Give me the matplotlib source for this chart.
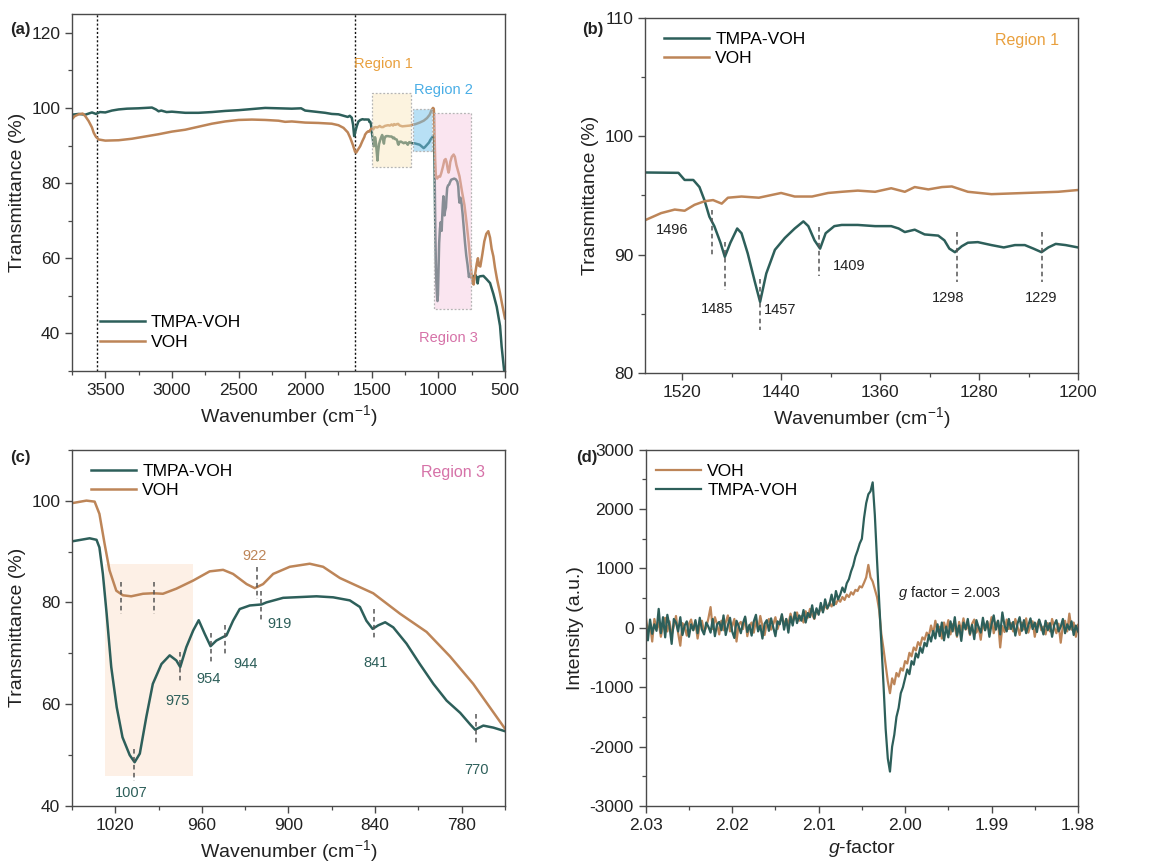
import numpy as np
import matplotlib
matplotlib.use("Agg")
import matplotlib.pyplot as plt
from matplotlib.patches import Rectangle
from matplotlib.ticker import MultipleLocator, FormatStrFormatter

plt.rcParams['font.family'] = ['Liberation Sans', 'DejaVu Sans']
plt.rcParams['mathtext.fontset'] = 'custom'
plt.rcParams['mathtext.rm'] = 'Liberation Sans'
plt.rcParams['mathtext.it'] = 'Liberation Sans:italic'
plt.rcParams['axes.unicode_minus'] = False

TEAL = '#2D5F5A'
BROWN = '#BD8558'
INK = '#222222'

# ---------------- FTIR spectra (wavenumber in cm-1, transmittance in %) ----------------
wn_tmpa = [3750, 3700, 3650, 3600, 3570, 3540, 3500, 3450, 3400, 3337, 3250, 3150, 3120, 3100,
           3080, 3040, 3000, 2900, 2800, 2700, 2600, 2500, 2400, 2300, 2200, 2100, 2030, 2000,
           1950, 1900, 1850, 1800, 1750, 1700, 1680, 1665, 1650, 1640, 1632, 1625, 1612, 1600,
           1585, 1570, 1555,
           1550, 1523, 1518, 1511, 1506, 1502, 1498, 1494, 1489, 1485.5, 1481, 1475.5, 1472,
           1467, 1461, 1457, 1452, 1445, 1437, 1429, 1422, 1418, 1413, 1408.5, 1404, 1397, 1391,
           1378, 1364, 1351, 1345, 1340, 1332, 1324, 1313, 1308, 1304, 1299.5, 1294, 1289, 1281,
           1270, 1260, 1251, 1243, 1236, 1229.5, 1224, 1218, 1210, 1200,
           1180, 1160, 1140, 1120, 1110, 1100, 1085, 1070, 1060,
           1050, 1037.8, 1033, 1031, 1028.6, 1026, 1022.8, 1019, 1015, 1010, 1006.6, 1003, 998.5,
           994, 988, 982.3, 977.7, 975, 970.8, 966, 962.2, 958, 954, 950, 945.3, 943, 938.4,
           933.8, 926.8, 918.7, 915.3, 903.7, 880.6, 869, 857.5, 850.5, 846, 841.7, 837.8, 833,
           827.4, 818.2, 809, 799.6, 790.4, 781, 774, 770.7, 765, 758, 750,
           737, 720, 712, 705, 698, 687, 662, 640, 612, 587, 562, 537, 525, 507, 500]
t_tmpa = [98.2, 98.4, 98.2, 98.8, 98.4, 98.9, 98.8, 99.3, 99.6, 99.8, 99.9, 100.1, 99.6, 99.1,
          99.3, 98.9, 99.0, 98.7, 98.7, 98.9, 99.2, 99.4, 99.7, 100.0, 99.9, 99.8, 99.9, 99.3,
          99.1, 98.9, 98.7, 98.4, 98.3, 97.8, 97.6, 97.9, 97.4, 95.5, 92.5, 93.5, 95.2, 96.4,
          96.8, 97.0, 96.9,
          96.93, 96.9, 96.3, 96.3, 95.7, 94.6, 93.2, 92.4, 91.0, 89.8, 91.0, 92.2, 91.8,
          90.1, 87.6, 86.0, 88.4, 90.4, 91.4, 92.2, 92.8, 92.4, 91.2, 90.5, 91.8, 92.4, 92.5,
          92.5, 92.4, 92.4, 92.2, 91.9, 92.1, 91.7, 91.6, 91.2, 90.5, 90.2, 90.7, 91.0, 91.05,
          90.8, 90.6, 90.8, 90.8, 90.5, 90.2, 90.6, 90.9, 90.8, 90.6,
          90.6, 90.4, 90.2, 89.6, 89.3, 89.6, 90.2, 90.8, 91.5,
          92.0, 92.6, 92.3, 90.8, 85.6, 77.8, 67.3, 59.4, 53.5, 50.0, 48.6, 50.3, 57.5,
          64.0, 67.9, 69.6, 68.6, 67.3, 71.2, 74.5, 76.5, 73.8, 71.4, 72.5, 73.2, 73.5, 76.4,
          78.7, 79.4, 79.6, 80.0, 80.9, 81.2, 81.0, 80.4, 79.1, 76.4, 74.8, 75.5, 76.1,
          75.1, 71.9, 67.9, 64.0, 60.7, 58.3, 56.0, 55.0, 55.8, 55.4, 54.7,
          55.2, 55.5, 54.8, 53.3, 55.0, 55.2, 55.3, 54.5, 53.4, 50.5, 47.1, 42.0, 36.5, 30.5, 28.0]

wn_voh = [3750, 3730, 3700, 3670, 3650, 3625, 3600, 3587, 3570, 3550, 3500, 3400, 3300, 3200,
          3100, 3000, 2900, 2800, 2700, 2600, 2500, 2400, 2300, 2200, 2150, 2100, 2000, 1900,
          1800, 1750, 1712, 1680, 1662, 1640, 1625, 1617, 1605, 1587, 1570, 1555,
          1550, 1537, 1526, 1518, 1510, 1502, 1495, 1488, 1483, 1472, 1458, 1440, 1429, 1415,
          1402, 1391, 1378, 1364, 1351, 1340, 1332, 1321, 1310, 1302, 1289, 1270, 1243, 1216,
          1200,
          1170, 1140, 1110, 1085, 1065,
          1050, 1040, 1034.3, 1031, 1027.4, 1024, 1019.3, 1014.7, 1009, 1000.8, 993.9, 987,
          977.7, 966, 954.6, 945.3, 938.4, 929, 923.4, 917.6, 910.6, 899.1, 885.3, 876, 864.4,
          855.2, 841.3, 822.8, 804.3, 788.1, 772, 750,
          742, 735, 725, 712, 703, 695, 685, 670, 655, 640, 625, 612, 600, 587, 575, 560, 537,
          520, 500]
t_voh = [97.0, 97.8, 98.3, 98.5, 97.8, 96.5, 94.8, 93.4, 92.3, 91.6, 91.3, 91.4, 91.8, 92.4,
         93.0, 93.7, 94.2, 95.0, 95.8, 96.4, 96.8, 96.9, 96.8, 96.6, 96.3, 96.4, 96.1, 96.0,
         95.8, 95.4, 94.7, 93.5, 92.1, 90.0, 88.3, 88.1, 88.8, 89.8, 91.2, 92.3,
         92.9, 93.5, 93.8, 93.7, 94.2, 94.5, 94.6, 94.3, 94.8, 94.9, 94.8, 95.2, 94.9, 94.9,
         95.2, 95.3, 95.4, 95.3, 95.6, 95.3, 95.7, 95.5, 95.7, 95.75, 95.3, 95.1, 95.2, 95.3,
         95.45,
         95.7, 96.1, 96.6, 97.3, 98.2,
         99.5, 100.0, 99.8, 97.4, 91.5, 86.3, 82.3, 81.4, 81.2, 81.7, 81.8, 81.7,
         82.7, 84.3, 86.1, 86.4, 85.6, 83.6, 82.8, 83.6, 85.6, 87.0, 87.6, 87.0, 84.8,
         83.6, 81.8, 77.8, 74.2, 69.4, 64.0, 55.2,
         53.5, 53.0, 55.5, 58.5, 60.0, 58.0, 57.8, 61.0, 64.5, 66.5, 67.2, 65.5, 62.5, 60.5,
         57.5, 54.5, 50.7, 47.5, 44.0]

# labelled absorption bands
peaks_b = [1496, 1485, 1457, 1409, 1298, 1229]
peaks_c_tmpa = [1007, 975, 954, 944, 919, 841, 770]
peaks_c_voh = [1016, 993, 922]

# ---------------- EPR spectra ----------------
g_start, g_stop, g_count = 2.03, 1.98, 201
epr_tmpa = [120, -210, 140, -100, 60, -50, 320, -90, 180, -160,
            220, 30, -270, 150, 90, -60, 180, -120, 40, 110,
            -150, 60, -40, 130, -90, 170, -30, -110, 90, 20,
            -80, 150, -140, 60, 100, -40, 210, -120, 40, 170,
            -60, -170, 120, 30, -90, 80, 190, -70, 50, -130,
            110, 220, -60, 40, -180, 70, 130, -50, 160, 10,
            -140, 110, 60, 230, -30, 150, -80, 190, 40, 260,
            80, 210, 120, 300, 90, 250, 180, 380, 160, 330,
            220, 420, 260, 480, 330, 400, 560, 380, 620, 480,
            560, 680, 600, 750, 820, 950, 1050, 1200, 1300, 1420,
            1500, 1850, 2100, 2250, 2300, 2450, 1900, 1150, 450, -250,
            -950, -1700, -2200, -2420, -2000, -1800, -1500, -1350, -1100, -1000,
            -850, -700, -780, -560, -620, -430, -500, -330, -420, -250,
            -310, -120, -230, -50, -180, 60, -140, 90, -210, 20,
            -160, 110, -60, 180, -130, 40, -220, 90, -20, 150,
            -100, 50, -190, 130, 10, -80, 170, -40, 110, -150,
            60, 210, -30, 120, -110, 260, 40, -60, 150, -20,
            100, -130, 70, 180, -50, 130, -90, 40, 160, -20,
            90, -70, 140, 30, -110, 120, -40, 80, -150, 50,
            130, -60, 20, 150, -90, 60, -30, 110, -120, 40,
            -60]
epr_voh = [200, -80, 60, -230, 150, -20, 90, -150, 40, 170,
           -60, 110, -120, 30, 200, -90, -300, 80, 20, -130,
           70, 140, -40, 90, -180, 50, 120, -70, 10, 160,
           350, -20, 180, 60, -110, 120, -40, 90, 210, -60,
           30, 150, -230, 60, 100, -20, 170, -140, 40, 90,
           -80, 130, -40, 200, 30, -120, 80, 150, -30, 60,
           180, -20, 100, 210, 40, 150, 60, 240, 100, 180,
           260, 120, 200, 90, 280, 170, 320, 220, 150, 300,
           240, 340, 280, 380, 320, 420, 360, 460, 400, 480,
           440, 520, 470, 560, 520, 600, 560, 640, 620, 700,
           680, 760, 850, 1060, 850, 780, 650, 520, 300, -100,
           -350, -620, -900, -1100, -850, -950, -760, -820, -680, -720,
           -560, -600, -420, -480, -330, -380, -240, -300, -160, -200,
           -80, -140, 40, -100, 120, -60, 20, -180, 90, -40,
           130, -110, 60, 10, -150, 100, -60, 160, -30, 50,
           -120, 70, 140, -80, 20, -200, 90, -40, 110, -10,
           180, -90, 50, 120, -330, 30, -70, 140, -20, 80,
           -60, 150, 20, -120, 90, -30, 160, -80, 40, 110,
           -150, 60, 130, -40, 20, -110, 80, -60, 150, 10,
           -90, 70, -250, 40, 120, -60, 240, -30, 90, -150,
           50]
g_axis = np.linspace(g_start, g_stop, g_count)

TICK_FS = 12.5
LABEL_FS = 14
LEG_FS = 12.5
ANN_FS = 10.5


def style_axes(ax):
    for sp in ax.spines.values():
        sp.set_color('#4a4a4a')
        sp.set_linewidth(1.0)
    ax.tick_params(which='major', direction='out', length=5, width=1.0,
                   labelsize=TICK_FS, colors='#4a4a4a', labelcolor=INK,
                   top=False, right=False)
    ax.tick_params(which='minor', direction='out', length=3, width=0.9,
                   colors='#4a4a4a', top=False, right=False)


def vmark(ax, x, y0, y1):
    ax.plot([x, x], [y0, y1], ls=(0, (3, 2.2)), color='#555555', lw=1.1, zorder=4)


fig = plt.figure(figsize=(11.5, 8.68), dpi=100)

# ---------------- (a) full FTIR range ----------------
ax = fig.add_axes([0.0626, 0.5726, 0.3765, 0.4113])
ax.plot(wn_tmpa, t_tmpa, color=TEAL, lw=1.8, label='TMPA-VOH', zorder=2)
ax.plot(wn_voh, t_voh, color=BROWN, lw=1.8, label='VOH', zorder=2)
for xv in (3562, 1622):
    ax.axvline(xv, color='#111111', ls=(0, (1.5, 1.5)), lw=1.0, zorder=1)
ax.add_patch(Rectangle((1205, 84.3), 295, 19.6, facecolor=(0.98, 0.90, 0.72, 0.45),
                       edgecolor='#b5b5b5', ls=(0, (1.5, 1.5)), lw=0.9, zorder=3))
ax.add_patch(Rectangle((1045, 88.5), 147, 11.3, facecolor=(0.45, 0.76, 0.93, 0.5),
                       edgecolor='#b5b5b5', ls=(0, (1.5, 1.5)), lw=0.9, zorder=3))
ax.add_patch(Rectangle((755, 46.4), 277, 52.2, facecolor=(0.96, 0.78, 0.87, 0.45),
                       edgecolor='#b5b5b5', ls=(0, (1.5, 1.5)), lw=0.9, zorder=3))
ax.text(1412, 111.8, 'Region 1', color='#E9A03E', fontsize=10.5, ha='center', va='center')
ax.text(962, 104.8, 'Region 2', color='#4AAEE6', fontsize=10.5, ha='center', va='center')
ax.text(925, 38.7, 'Region 3', color='#D672A8', fontsize=10.5, ha='center', va='center')
ax.set_xlim(3750, 500)
ax.set_ylim(30, 125)
ax.xaxis.set_major_locator(MultipleLocator(500))
ax.xaxis.set_minor_locator(MultipleLocator(250))
ax.set_yticks([40, 60, 80, 100, 120])
ax.yaxis.set_minor_locator(MultipleLocator(10))
ax.set_xlabel('Wavenumber (cm$^{-1}$)', fontsize=LABEL_FS, color=INK)
ax.set_ylabel('Transmittance (%)', fontsize=LABEL_FS, color=INK)
style_axes(ax)
ax.legend(loc='lower left', bbox_to_anchor=(0.04, 0.03), frameon=False, fontsize=LEG_FS,
          handlelength=2.6, handletextpad=0.35, labelspacing=0.25, borderaxespad=0.2)

# ---------------- (b) region 1 ----------------
ax = fig.add_axes([0.5609, 0.5703, 0.3765, 0.4093])
ax.plot(wn_tmpa, t_tmpa, color=TEAL, lw=1.8, label='TMPA-VOH')
ax.plot(wn_voh, t_voh, color=BROWN, lw=1.8, label='VOH')
b_marks = {1496: (93.8, 90.0), 1485: (91.1, 87.0), 1457: (87.9, 83.6),
           1409: (92.3, 88.2), 1298: (91.9, 87.7), 1229: (91.9, 87.7)}
b_text = {1496: (1528, 92.1), 1485: (1492, 85.4), 1457: (1441, 85.3),
          1409: (1385, 89.0), 1298: (1305, 86.3), 1229: (1230, 86.3)}
for p in peaks_b:
    vmark(ax, p, *b_marks[p])
    ax.text(*b_text[p], str(p), fontsize=ANN_FS, color=INK, ha='center', va='center')
ax.text(1241, 108.1, 'Region 1', color='#E9A03E', fontsize=11.5, ha='center', va='center')
ax.set_xlim(1550, 1200)
ax.set_ylim(80, 110)
ax.xaxis.set_major_locator(MultipleLocator(80))
ax.xaxis.set_minor_locator(MultipleLocator(40))
ax.yaxis.set_major_locator(MultipleLocator(10))
ax.yaxis.set_minor_locator(MultipleLocator(5))
ax.set_xlabel('Wavenumber (cm$^{-1}$)', fontsize=LABEL_FS, color=INK)
ax.set_ylabel('Transmittance (%)', fontsize=LABEL_FS, color=INK)
style_axes(ax)
ax.legend(loc='upper left', bbox_to_anchor=(0.02, 0.99), frameon=False, fontsize=LEG_FS,
          handlelength=2.6, handletextpad=0.35, labelspacing=0.25, borderaxespad=0.2)

# ---------------- (c) region 3 ----------------
ax = fig.add_axes([0.0626, 0.0714, 0.3765, 0.4105])
ax.add_patch(Rectangle((966, 45.9), 61.4, 41.7, facecolor='#FDF0E6', edgecolor='none', zorder=0))
ax.plot(wn_tmpa, t_tmpa, color=TEAL, lw=1.8, label='TMPA-VOH', zorder=2)
ax.plot(wn_voh, t_voh, color=BROWN, lw=1.8, label='VOH', zorder=2)
c_marks = {1007: (51.3, 45.0), 975: (70.2, 64.3), 954: (74.0, 68.0), 944: (75.5, 69.4),
           919: (82.3, 76.1), 841: (78.7, 72.8), 770: (58.1, 52.1),
           1016: (84.0, 77.8), 993: (84.0, 77.8), 922: (86.9, 80.7)}
c_text = {1007: (1009, 42.6), 975: (977, 60.7), 954: (955.7, 65.0), 944: (930, 67.9),
          919: (906, 75.7), 841: (839.6, 68.0), 770: (769.6, 47.1), 922: (923.5, 89.2)}
for p in peaks_c_tmpa:
    vmark(ax, p, *c_marks[p])
    ax.text(*c_text[p], str(p), fontsize=ANN_FS, color=TEAL, ha='center', va='center')
for p in peaks_c_voh:
    vmark(ax, p, *c_marks[p])
    if p in c_text:
        ax.text(*c_text[p], str(p), fontsize=ANN_FS, color=BROWN, ha='center', va='center')
ax.text(785.8, 105.6, 'Region 3', color='#D672A8', fontsize=11.5, ha='center', va='center')
ax.set_xlim(1050, 750)
ax.set_ylim(40, 110)
ax.xaxis.set_major_locator(MultipleLocator(60))
ax.xaxis.set_minor_locator(MultipleLocator(30))
ax.set_yticks([40, 60, 80, 100])
ax.yaxis.set_minor_locator(MultipleLocator(10))
ax.set_xlabel('Wavenumber (cm$^{-1}$)', fontsize=LABEL_FS, color=INK)
ax.set_ylabel('Transmittance (%)', fontsize=LABEL_FS, color=INK)
style_axes(ax)
ax.legend(loc='upper left', bbox_to_anchor=(0.02, 0.99), frameon=False, fontsize=LEG_FS,
          handlelength=2.6, handletextpad=0.35, labelspacing=0.25, borderaxespad=0.2)

# ---------------- (d) EPR ----------------
ax = fig.add_axes([0.5615, 0.0714, 0.3759, 0.4105])
ax.plot(g_axis, epr_voh, color=BROWN, lw=1.6, label='VOH')
ax.plot(g_axis, epr_tmpa, color=TEAL, lw=1.6, label='TMPA-VOH')
ax.text(2.0008, 580, '$g$ factor = 2.003', fontsize=ANN_FS, color=INK, ha='left', va='center')
ax.set_xlim(2.03, 1.98)
ax.set_ylim(-3000, 3000)
ax.xaxis.set_major_locator(MultipleLocator(0.01))
ax.xaxis.set_minor_locator(MultipleLocator(0.005))
ax.yaxis.set_major_locator(MultipleLocator(1000))
ax.yaxis.set_minor_locator(MultipleLocator(500))
ax.xaxis.set_major_formatter(FormatStrFormatter('%.2f'))
ax.set_xlabel('$g$-factor', fontsize=LABEL_FS, color=INK)
ax.set_ylabel('Intensity (a.u.)', fontsize=LABEL_FS, color=INK)
style_axes(ax)
ax.legend(loc='upper left', bbox_to_anchor=(0.0, 0.99), frameon=False, fontsize=LEG_FS,
          handlelength=2.6, handletextpad=0.35, labelspacing=0.25, borderaxespad=0.2)

# panel letters
for lbl, x, y in [('(a)', 0.009, 0.966), ('(b)', 0.506, 0.966),
                  ('(c)', 0.009, 0.473), ('(d)', 0.501, 0.473)]:
    fig.text(x, y, lbl, fontsize=12, fontweight='bold', color=INK, ha='left', va='center')

fig.savefig('out.png', dpi=100)
